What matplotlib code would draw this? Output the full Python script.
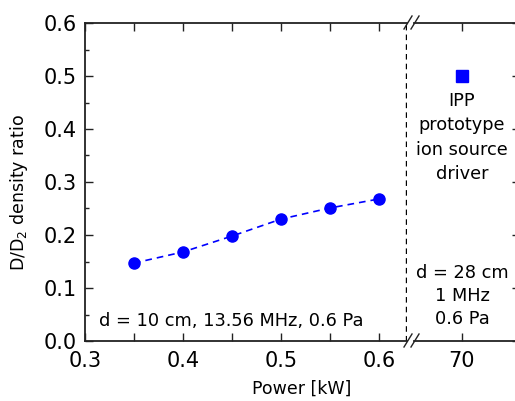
"""D/D2 density ratio vs RF power, with a broken x axis for the IPP driver point"""

import matplotlib

matplotlib.use("Agg")
import matplotlib.pyplot as plt
from matplotlib.lines import Line2D
from matplotlib.ticker import FixedLocator, MultipleLocator, FuncFormatter

plt.rcParams["font.family"] = ["DejaVu Sans"]

# small source, d = 10 cm, 13.56 MHz, 0.6 Pa
power_kw = [0.35, 0.40, 0.45, 0.50, 0.55, 0.60]
ratio = [0.147, 0.168, 0.198, 0.230, 0.251, 0.268]

# IPP prototype driver, d = 28 cm, 1 MHz, 0.6 Pa
ipp_power_kw = [70]
ipp_ratio = [0.50]

left_ticks = [0.3, 0.4, 0.5, 0.6]
right_ticks = [70]
y_ticks = [0.0, 0.1, 0.2, 0.3, 0.4, 0.5, 0.6]

W, H = 515, 401
fig = plt.figure(figsize=(W / 100, H / 100), dpi=100)


def fx(px):
    return px / W


def fy(py):
    return 1 - py / H


top, bottom = 23, 341
left_px, brk_l, brk_r, right_px = 85, 407, 414, 520
ax1 = fig.add_axes([fx(left_px), fy(bottom), fx(brk_l - left_px), (bottom - top) / H])
ax2 = fig.add_axes([fx(brk_r), fy(bottom), fx(right_px - brk_r), (bottom - top) / H],
                   sharey=ax1)

ax1.set_xlim(0.3, 0.3 + (brk_l - left_px) / 980)
span = 10.0
ax2.set_xlim(70 - (462 - brk_r) / (right_px - brk_r) * span,
             70 + (right_px - 462) / (right_px - brk_r) * span)
ax1.set_ylim(0, 0.6)

ax1.plot(power_kw, ratio, ls=(0, (4, 3)), color="blue", lw=1.2,
         marker="o", ms=8, mec="blue", mfc="blue")
ax2.plot(ipp_power_kw, ipp_ratio, ls="none", marker="s", ms=9, color="blue")

ax1.axvline(0.6275, color="black", ls=(0, (4, 3)), lw=1.0)

for ax in (ax1, ax2):
    for s in ax.spines.values():
        s.set_linewidth(1.3)
        s.set_color("#222222")
    ax.tick_params(which="both", direction="in", width=1.0, labelsize=15,
                   colors="#222222", labelcolor="black")
    ax.tick_params(which="major", length=6)
    ax.tick_params(which="minor", length=3)
    ax.tick_params(axis="x", which="minor", length=6)

ax1.spines["right"].set_visible(False)
ax2.spines["left"].set_visible(False)
ax1.tick_params(top=True, right=False, which="both")
ax2.tick_params(top=True, left=False, right=True, labelleft=False, which="both")

ax1.xaxis.set_major_locator(FixedLocator(left_ticks))
ax1.xaxis.set_minor_locator(MultipleLocator(0.05))
ax1.xaxis.set_major_formatter(FuncFormatter(lambda v, p: f"{v:.1f}"))
ax2.xaxis.set_major_locator(FixedLocator(right_ticks))
ax1.yaxis.set_major_locator(FixedLocator(y_ticks))
ax1.yaxis.set_minor_locator(MultipleLocator(0.05))
ax1.yaxis.set_major_formatter(FuncFormatter(lambda v, p: f"{v:.1f}"))
ax1.tick_params(axis="x", pad=7)
ax2.tick_params(axis="x", pad=7)
ax1.tick_params(axis="y", pad=6)

ax1.text(0.449, 0.038, "d = 10 cm, 13.56 MHz, 0.6 Pa", fontsize=12.8,
         ha="center", va="center")
ax2.text(70, 0.384, "IPP\nprototype\nion source\ndriver", fontsize=12.8,
         ha="center", va="center", linespacing=1.45)
ax2.text(70, 0.085, "d = 28 cm\n1 MHz\n0.6 Pa", fontsize=12.8,
         ha="center", va="center", linespacing=1.35)

fig.text(fx(302), fy(389), "Power [kW]", fontsize=12.5, ha="center", va="center")
fig.text(fx(19), fy(193), "D/D$_2$ density ratio", fontsize=12.5, rotation=90,
         ha="center", va="center")

# break marks on both horizontal spines
for yb in (top, bottom):
    for x0 in (404, 411):
        fig.add_artist(Line2D([fx(x0), fx(x0 + 8)], [fy(yb + 6), fy(yb - 7)],
                              color="#222222", lw=1.0))

fig.savefig("out.png", dpi=100)
